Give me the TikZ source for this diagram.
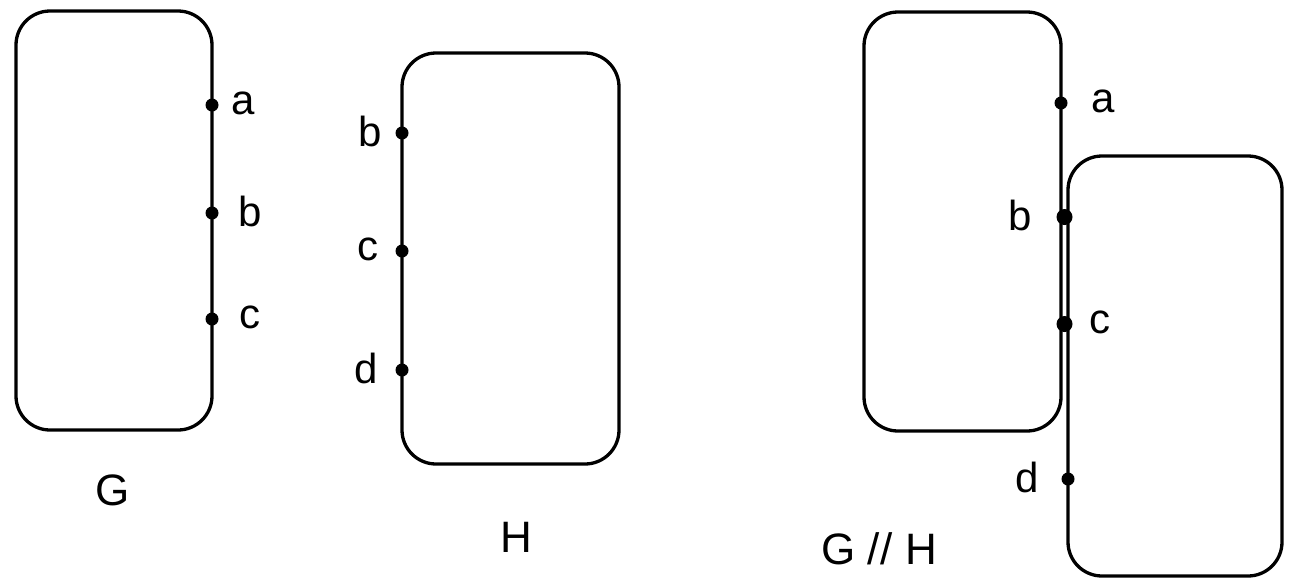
\documentclass[tikz,border=0pt]{standalone}
\usepackage{fontspec}
\setmainfont{Liberation Sans}
\begin{document}
\begin{tikzpicture}[x=1pt,y=-1pt,
  box/.style={draw,line width=3.3pt,rounded corners=34pt,inner sep=0pt},
  pt/.style={circle,fill=black,inner sep=0pt,minimum size=13pt},
  lbl/.style={inner sep=0pt,font=\fontsize{42}{48}\selectfont},
  big/.style={inner sep=0pt,font=\fontsize{44}{50}\selectfont}]
\useasboundingbox (0,0) rectangle (1296,579);
% G
\node[box,minimum width=196pt,minimum height=419pt] (G) at (114,220.5) {};
\node[pt] (Ga) at (212,105) {};
\node[pt] (Gb) at (212,213) {};
\node[pt] (Gc) at (212,319) {};
\node[lbl] (Gla) at (243,103) {a};
\node[lbl] (Glb) at (250,211) {b};
\node[lbl] (Glc) at (250,317) {c};
\node[big] (Gname) at (113,490) {G};
% H
\node[box,minimum width=217pt,minimum height=411pt] (H) at (510.5,258.5) {};
\node[pt] (Hb) at (402,133) {};
\node[pt] (Hc) at (402,251) {};
\node[pt] (Hd) at (402,370) {};
\node[lbl] (Hlb) at (370,131) {b};
\node[lbl] (Hlc) at (368,249) {c};
\node[lbl] (Hld) at (366,368) {d};
\node[big] (Hname) at (516,537) {H};
% G // H
\node[box,minimum width=197pt,minimum height=419pt] (G2) at (962.5,221.5) {};
\node[box,minimum width=214pt,minimum height=420pt] (H2) at (1175,366) {};
\node[pt] (G2a) at (1061,103) {};
\node[pt,minimum width=16pt,minimum height=12pt] (J2b) at (1064.5,217) {};
\node[pt,minimum width=16pt,minimum height=12pt] (J2c) at (1064.5,324) {};
\node[pt] (H2d) at (1068,479) {};
\node[lbl] (G2la) at (1103,101) {a};
\node[lbl] (J2lb) at (1020,215) {b};
\node[lbl] (J2lc) at (1100,322) {c};
\node[lbl] (H2ld) at (1027,477) {d};
\node[big] (GHname) at (879,549) {G /\kern1pt/ H};
\end{tikzpicture}
\end{document}
